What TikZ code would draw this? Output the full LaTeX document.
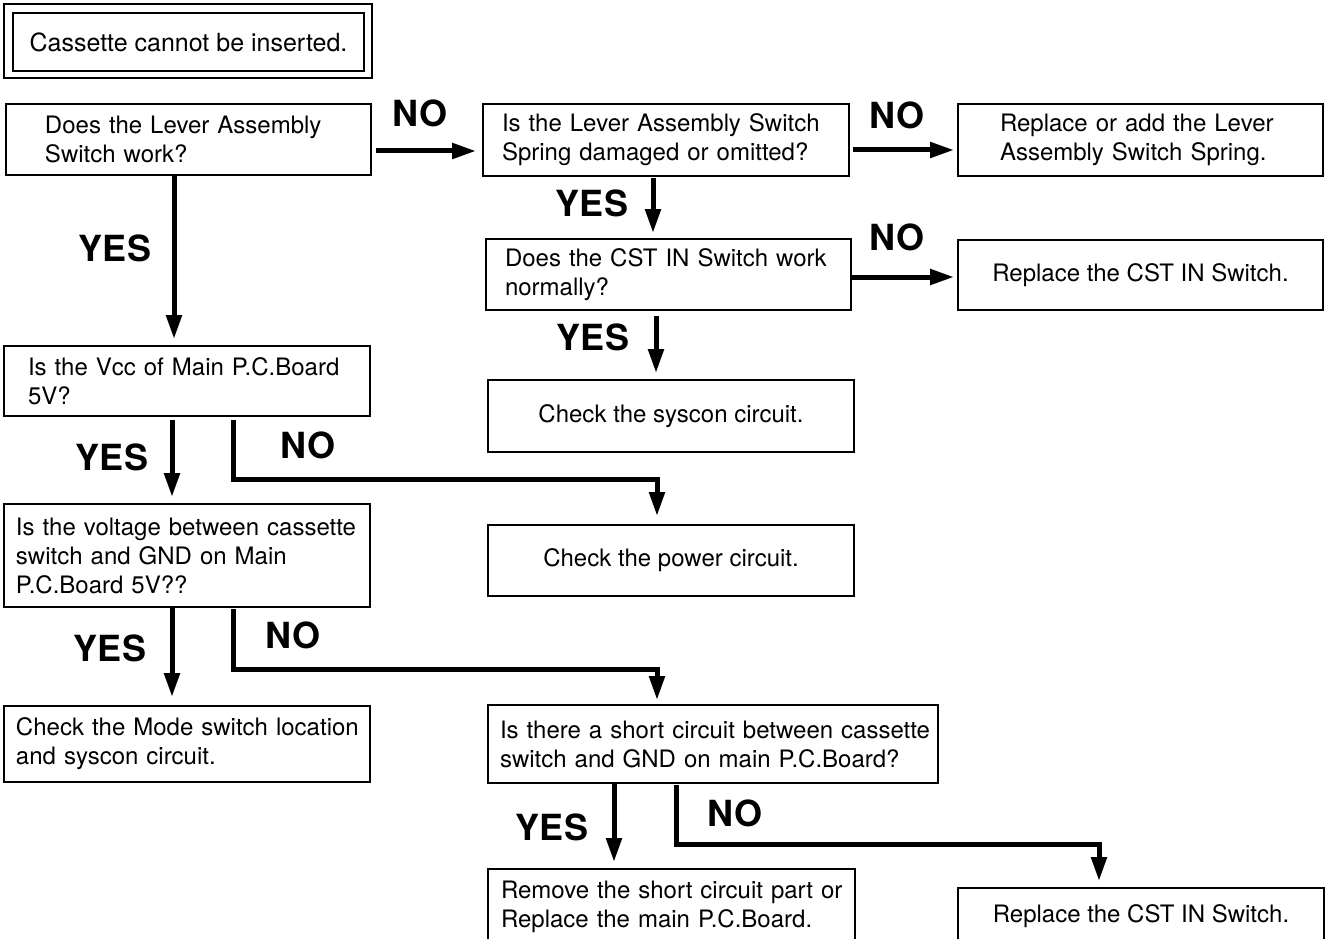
\documentclass[tikz,border=0pt]{standalone}
\usepackage{fontspec}
\setmainfont{TeX Gyre Heros}
\usetikzlibrary{arrows.meta,calc}
\begin{document}
\begin{tikzpicture}[x=1pt,y=-1pt,
  box/.style={draw, line width=1.8pt, inner ysep=0pt, align=left,
    font=\fontsize{24}{29}\selectfont},
  cbox/.style={draw, line width=1.8pt, inner sep=0pt, align=center,
    font=\fontsize{24}{29}\selectfont},
  lab/.style={font=\fontsize{36}{36}\selectfont\bfseries, inner sep=0pt},
  arr/.style={line width=5pt, -{Triangle[length=24pt,width=15pt]}},
]
\useasboundingbox (0,0) rectangle (1326,939);

% title
\node[draw, line width=2.8pt, minimum width=351pt, minimum height=58pt, inner sep=0pt,
  font=\fontsize{25}{30}\selectfont] (title) at (188.5,42) {Cassette cannot be inserted.};
\draw[line width=2pt] ([xshift=-8pt,yshift=8pt]title.north west) rectangle ([xshift=7pt,yshift=-6pt]title.south east);

% boxes (width = text width + 2 inner xsep)
\node[box, inner xsep=39pt, text width=287pt, minimum height=71pt] (b1) at (188.5,139.5)
  {\mbox{Does the Lever Assembly}\\\mbox{Switch work?}};
\node[box, inner xsep=19pt, text width=328pt, minimum height=72pt] (b2) at (666,140)
  {\mbox{Is the Lever Assembly Switch}\\\mbox{Spring damaged or omitted?}};
\node[box, inner xsep=42pt, text width=281pt, minimum height=72pt] (b3) at (1140.5,140)
  {\mbox{Replace or add the Lever}\\\mbox{Assembly Switch Spring.}};
\node[box, inner xsep=19pt, text width=327pt, minimum height=71pt] (b4) at (668.5,274.5)
  {\mbox{Does the CST IN Switch work}\\\mbox{normally?}};
\node[cbox, minimum width=365pt, minimum height=70pt] (b5) at (1140.5,275)
  {Replace the CST IN Switch.};
\node[cbox, minimum width=366pt, minimum height=72pt] (b6) at (671,416)
  {Check the syscon circuit.};
\node[box, inner xsep=24pt, text width=318pt, minimum height=70pt] (b7) at (187,381)
  {\mbox{Is the Vcc of Main P.C.Board}\\\mbox{5V?}};
\node[cbox, minimum width=366pt, minimum height=71pt] (b8) at (671,560.5)
  {Check the power circuit.};
\node[box, inner xsep=12pt, text width=342pt, minimum height=103pt] (b9) at (187,555.5)
  {\mbox{Is the voltage between cassette}\\\mbox{switch and GND on Main}\\\mbox{P.C.Board 5V??}};
\node[box, inner xsep=12pt, text width=342pt, minimum height=76pt] (b10) at (187,744)
  {\mbox{Check the Mode switch location}\\\mbox{and syscon circuit.}};
\node[box, inner xsep=12pt, text width=426pt, minimum height=78pt] (b11) at (713,744)
  {\mbox{Is there a short circuit between cassette}\\\mbox{switch and GND on main P.C.Board?}};
\node[box, inner xsep=13pt, text width=341pt, minimum height=81pt] (b12) at (671.5,909.5)
  {\mbox{Remove the short circuit part or}\\\mbox{Replace the main P.C.Board.}\rule[-11.5pt]{0pt}{11.5pt}};
\node[cbox, minimum width=366pt, minimum height=56pt] (b13) at (1141,916)
  {Replace the CST IN Switch.};

% labels
\node[lab] (n1) at (420,113) {NO};
\node[lab] (n2) at (897,115) {NO};
\node[lab] (n3) at (897,237) {NO};
\node[lab] (n4) at (308,445) {NO};
\node[lab] (n5) at (293,635) {NO};
\node[lab] (n6) at (735,813) {NO};
\node[lab] (y1) at (115,248) {YES};
\node[lab] (y2) at (592,203) {YES};
\node[lab] (y3) at (593,337) {YES};
\node[lab] (y4) at (112,457) {YES};
\node[lab] (y5) at (110,648) {YES};
\node[lab] (y6) at (552,827) {YES};

% connectors
\draw[arr, shorten <=4pt, shorten >=6pt] (b1.east |- 0,151) -- (b2.west |- 0,151);
\draw[arr, shorten <=3pt, shorten >=3pt] (b2.east |- 0,150) -- (b3.west |- 0,150);
\draw[arr, shorten >=3pt] (b4.east |- 0,277) -- (b5.west |- 0,277);
\draw[arr, shorten <=1pt, shorten >=5pt] (b2.south -| 653,0) -- (b4.north -| 653,0);
\draw[arr, shorten <=5pt, shorten >=6pt] (b4.south -| 656,0) -- (b6.north -| 656,0);
\draw[arr, shorten >=6pt] (b1.south -| 174,0) -- (b7.north -| 174,0);
\draw[arr, shorten <=3pt, shorten >=6pt] (b7.south -| 172,0) -- (b9.north -| 172,0);
\draw[arr, shorten <=3pt, shorten >=8pt] (b7.south -| 233,0) -- ++(0,63) -| (b8.north -| 657,0);
\draw[arr, shorten >=8pt] (b9.south -| 172,0) -- (b10.north -| 172,0);
\draw[arr, shorten <=1pt, shorten >=4pt] (b9.south -| 233,0) -- ++(0,62) -| (b11.north -| 657,0);
\draw[arr, shorten >=6pt] (b11.south -| 614,0) -- (b12.north -| 614,0);
\draw[arr, shorten <=1pt, shorten >=6pt] (b11.south -| 676,0) -- ++(0,61) -| (b13.north -| 1099,0);
\end{tikzpicture}
\end{document}
